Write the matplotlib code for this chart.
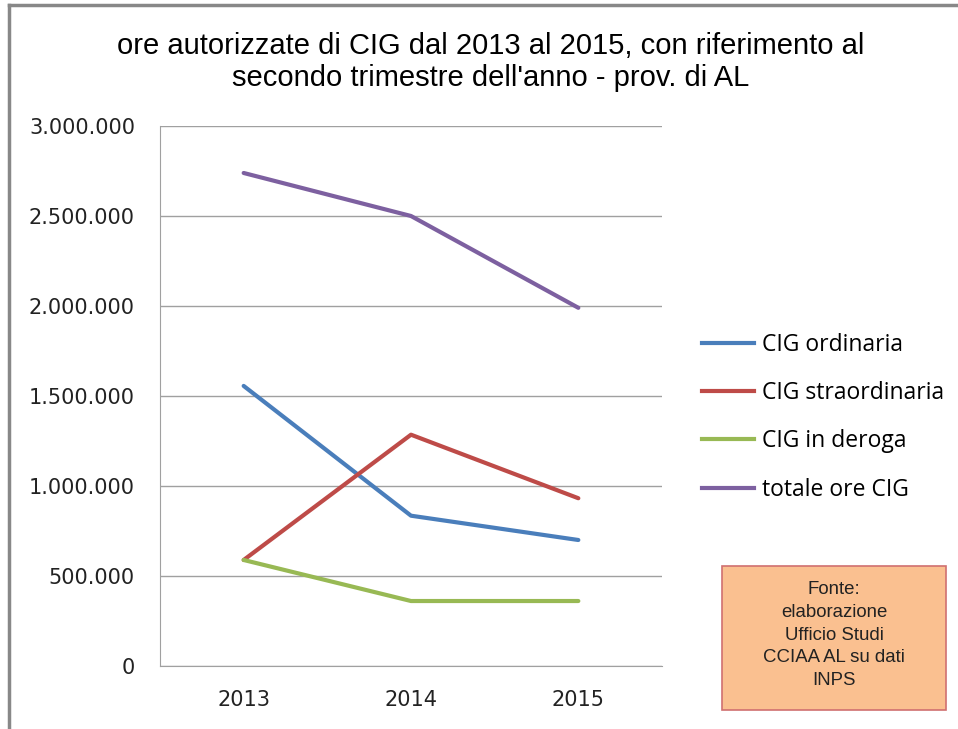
import matplotlib.pyplot as plt
from matplotlib.ticker import FuncFormatter
from matplotlib.lines import Line2D
from matplotlib.patches import Rectangle

# Data
years = ['2013', '2014', '2015']
cig_ordinaria = [1556000, 835000, 700000]
cig_straordinaria = [589000, 1285000, 932000]
cig_deroga = [589000, 361000, 361000]
totale_ore = [2739000, 2500000, 1990000]

labels = ['CIG ordinaria', 'CIG straordinaria', 'CIG in deroga', 'totale ore CIG']
colors = ['#4a7ebb', '#be4b48', '#98b954', '#7d60a0']

fig = plt.figure(figsize=(9.58, 7.29), dpi=100)
ax = fig.add_axes([160 / 958, 1 - 666 / 729, 502 / 958, 540 / 729])

x = [i + 0.5 for i in range(len(years))]
for series, label, color in zip([cig_ordinaria, cig_straordinaria, cig_deroga, totale_ore], labels, colors):
    ax.plot(x, series, color=color, linewidth=3, label=label, solid_capstyle='round', zorder=3)

ax.set_xlim(0, 3)
ax.set_ylim(0, 3000000)
ax.set_yticks(range(0, 3000001, 500000))
ax.yaxis.set_major_formatter(FuncFormatter(lambda v, p: f'{int(v):,}'.replace(',', '.')))
ax.set_xticks(x)
ax.set_xticklabels(years)
ax.grid(axis='y', color='#a0a0a0', linewidth=1)
ax.set_axisbelow(True)
for side in ['top', 'right']:
    ax.spines[side].set_visible(False)
for side in ['left', 'bottom']:
    ax.spines[side].set_color('#a0a0a0')
ax.tick_params(axis='y', length=0, pad=18, labelsize=15, labelcolor='#222222')
ax.tick_params(axis='x', length=0, pad=17, labelsize=15, labelcolor='#222222')
for t in ax.get_xticklabels() + ax.get_yticklabels():
    t.set_fontfamily('DejaVu Sans')

# Title
fig.text(491 / 958, 1 - 62 / 729, "ore autorizzate di CIG dal 2013 al 2015, con riferimento al\nsecondo trimestre dell'anno - prov. di AL",
         ha='center', va='center', fontsize=21, family='Liberation Sans', linespacing=1.15)

# Legend
handles = [Line2D([], [], color=c, linewidth=3) for c in colors]
leg = fig.legend(handles, labels, loc='upper left', bbox_to_anchor=(681 / 958, 1 - 312 / 729),
                 frameon=False, prop={'family': 'Open Sans', 'size': 16.5}, handlelength=2.27,
                 handletextpad=0.35, labelspacing=1.065)

# Source box
fig.patches.append(Rectangle((722 / 958, 1 - 710 / 729), 224 / 958, 144 / 729, transform=fig.transFigure,
                             facecolor='#fac090', edgecolor='#d07070', linewidth=1.2))
fig.text(834 / 958, 1 - 635 / 729, 'Fonte:\nelaborazione\nUfficio Studi\nCCIAA AL su dati\nINPS',
         ha='center', va='center', fontsize=13.4, family='Liberation Sans', linespacing=1.45, color='#222222')

# Outer frame (left and top only visible)
fig.add_artist(Line2D([9 / 958, 9 / 958], [0, 1 - 5 / 729], transform=fig.transFigure, color='#888888', linewidth=2.5))
fig.add_artist(Line2D([9 / 958, 1], [1 - 5 / 729, 1 - 5 / 729], transform=fig.transFigure, color='#888888', linewidth=2.5))

fig.savefig('out.png', dpi=100)
